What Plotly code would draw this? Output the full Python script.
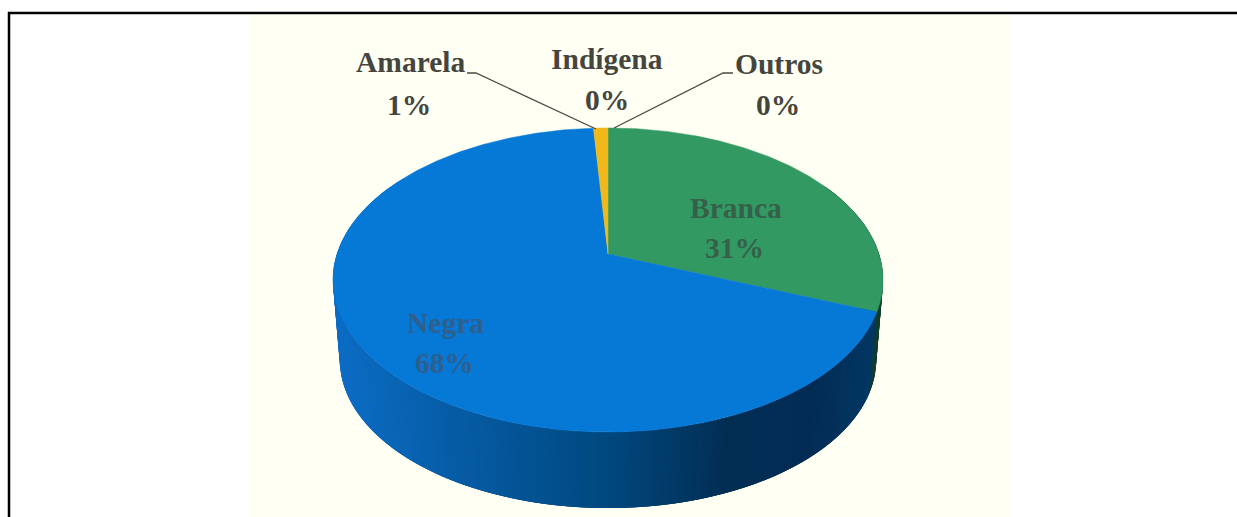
import numpy as np
import plotly.graph_objects as go

# Shares by race/colour, clockwise from twelve o'clock
categories = ["Branca", "Negra", "Amarela", "Indígena", "Outros"]
shares = [31, 68, 1, 0, 0]
face_colors = ["#339963", "#0678D6", "#F0B818", "#2E7D4F", "#2E7D4F"]

W, H = 1237, 517

# Projection of the tilted disc: centre, radii and perspective strength
CX, CY = 608.0, 254.0
RX, RY = 271.0, 147.6
PERSP = 0.171
# The lower rim is the same disc, pushed down and slightly further away
RIM_SCALE, RIM_CY = 0.975, 334.5


def project(deg, radius=1.0, cy=CY, scale=1.0):
    t = np.radians(deg)
    u, v = radius * np.sin(t), -radius * np.cos(t)
    f = 1.0 / (1.0 - PERSP * v)
    return CX + scale * RX * u * f, cy + scale * RY * v * f


def side_color(deg, branca_end):
    """Shade of the disc wall: lit on the left, darkest towards the right."""
    if deg < branca_end:
        return "#0F3D2C"
    x = (project(deg)[0] - (CX - RX)) / (2 * RX)
    stops_x = [0.0, 0.22, 0.5, 0.72, 0.88, 1.0]
    r = np.interp(x, stops_x, [12, 6, 0, 2, 3, 2])
    g = np.interp(x, stops_x, [108, 92, 72, 46, 44, 56])
    b = np.interp(x, stops_x, [196, 164, 126, 84, 84, 100])
    return f"rgb({r:.0f},{g:.0f},{b:.0f})"


fig = go.Figure()

ends = np.cumsum(shares) * 3.6
starts = ends - np.array(shares) * 3.6
branca_end = ends[0]

# Wall of the disc: overlapping strips painted in turn, so no seams show
wall_edges = np.arange(60, 300, 1.0)
for a0 in wall_edges:
    top = np.linspace(a0, a0 + 3.0, 4)
    xt, yt = project(top)
    xb, yb = project(top[::-1], cy=RIM_CY, scale=RIM_SCALE)
    fig.add_trace(go.Scatter(
        x=np.r_[xt, xb], y=np.r_[yt, yb], mode="lines", fill="toself",
        fillcolor=side_color(a0 + 0.5, branca_end), line=dict(width=0), hoverinfo="skip",
    ))

# Top face: one wedge per category
for name, share, a0, a1, color in zip(categories, shares, starts, ends, face_colors):
    if share == 0:
        continue
    arc = np.linspace(a0, a1, max(int(share * 6), 4))
    xa, ya = project(arc)
    fig.add_trace(go.Scatter(
        x=np.r_[CX, xa, CX], y=np.r_[CY, ya, CY], mode="lines", fill="toself",
        fillcolor=color, line=dict(color=color, width=0.5), name=name,
    ))

# Leader lines for the small slices
leaders = [
    ([467, 476, 596], [73, 73, 129]),
    ([733, 723, 614], [73, 73, 128]),
]
for lx, ly in leaders:
    fig.add_trace(go.Scatter(x=lx, y=ly, mode="lines", hoverinfo="skip",
                             line=dict(color="#4A4A44", width=1.3)))

# Category and percentage labels
label_x = [736, 445, 410, 607, 779]
name_y = [208, 323, 62, 59, 64]
pct_x = [734, 444, 409, 607, 778]
pct_y = [248, 363, 105, 100, 105]
label_colors = ["#35604A", "#2F5F8C", "#45453F", "#45453F", "#45453F"]
FONT = "Liberation Serif"
FONT_SIZE = 29.5

annotations = []
for name, share, x, y, px, py, c in zip(categories, shares, label_x, name_y, pct_x, pct_y, label_colors):
    annotations.append(dict(x=x, y=y, text=f"<b>{name}</b>", showarrow=False,
                            font=dict(family=FONT, size=FONT_SIZE, color=c)))
    annotations.append(dict(x=px, y=py, text=f"<b>{share}%</b>", showarrow=False,
                            font=dict(family=FONT, size=FONT_SIZE, color=c)))

shapes = [
    dict(type="rect", x0=247, x1=1009, y0=14, y1=H, layer="below",
         fillcolor="#FFFFF3", line=dict(width=0)),
    dict(type="line", x0=8, x1=W, y0=13, y1=13, line=dict(color="#000000", width=2.5)),
    dict(type="line", x0=9, x1=9, y0=12, y1=H, line=dict(color="#000000", width=2.5)),
]

fig.update_layout(
    width=W, height=H, autosize=False, showlegend=False,
    margin=dict(l=0, r=0, t=0, b=0),
    paper_bgcolor="#FFFFFF", plot_bgcolor="#FFFFFF",
    xaxis=dict(range=[0, W], visible=False, fixedrange=True),
    yaxis=dict(range=[H, 0], visible=False, fixedrange=True),
    shapes=shapes, annotations=annotations,
)

fig.write_html("out.html", config=dict(displayModeBar=False))
